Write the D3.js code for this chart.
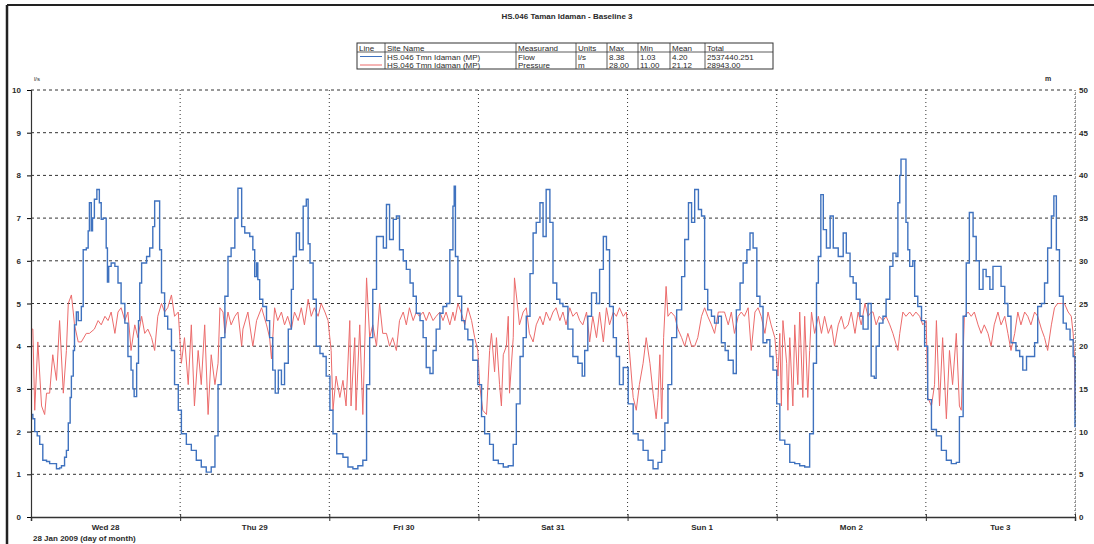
<!DOCTYPE html>
<html>
<head>
<meta charset="utf-8">
<script src="https://cdn.jsdelivr.net/npm/d3@7"></script>
<style>
  body { margin: 0; background: #fff; }
  svg { display: block; font-family: "Liberation Sans", Arial, sans-serif; }
</style>
</head>
<body>
<svg id="chart"></svg>
<script>
// readings: [hour of day, value], one array per day
const flowWed = [[0,2.4],[0.3,2.3],[0.6,2.0],[1,1.9],[1.4,1.7],[1.9,1.33],[2.5,1.3],[3,1.25],[3.5,1.25],[4.1,1.13],[4.6,1.15],[4.9,1.2],[5.4,1.4],[5.7,1.56],[6,2.2],[6.3,2.8],[6.5,3.3],[6.8,3.9],[7,4.5],[7.3,4.8],[7.6,4.6],[8.1,4.93],[8.4,6.26],[8.9,6.3],[9.2,6.7],[9.4,7.36],[9.7,6.7],[9.9,7.0],[10.2,7.44],[10.6,7.67],[11,7.36],[11.3,6.97],[11.6,7.0],[12.1,6.3],[12.3,5.5],[12.5,5.87],[12.9,5.95],[13.5,5.87],[14,5.48],[14.5,5.0],[15.1,4.54],[15.6,3.76],[16.1,3.44],[16.4,3.0],[16.6,2.82],[17,3.6],[17.3,4.6],[17.5,5.48],[17.8,5.95],[18.6,6.1],[19.1,6.3],[19.6,6.8],[19.9,7.4],[20.4,7.4],[20.7,6.26],[21,5.25],[21.5,4.7],[22,4.4],[22.6,3.9],[23.1,3.1],[23.7,2.5]];
const flowThu = [[0.2,1.95],[1,1.7],[1.8,1.56],[2.6,1.33],[3.4,1.17],[4.2,1.05],[5,1.17],[5.6,1.9],[6.1,3.1],[6.6,4.2],[7.2,5.17],[7.7,6.1],[8.2,6.3],[8.8,7.0],[9.3,7.7],[9.9,6.8],[10.4,6.65],[11.2,6.57],[11.7,6.26],[12,5.63],[12.3,5.95],[12.5,5.56],[12.8,5.1],[13.3,4.93],[13.9,4.6],[14.4,4.2],[14.9,3.44],[15.3,2.9],[15.8,3.44],[16.3,3.1],[16.8,3.6],[17.4,4.4],[17.9,5.33],[18.2,6.1],[18.7,6.65],[19.2,6.26],[19.8,7.28],[20.3,7.44],[20.6,6.4],[20.9,5.95],[21.4,5.1],[21.9,4.0],[22.5,3.83],[23,3.76],[23.5,3.3]];
const flowFri = [[0.1,2.5],[0.6,1.95],[1.2,1.48],[2.2,1.4],[3,1.17],[3.8,1.13],[4.6,1.2],[5.4,1.33],[6,3.1],[6.5,4.2],[7,5.33],[7.6,6.57],[8.1,6.57],[8.7,6.3],[9.2,7.32],[9.7,6.5],[10.3,6.97],[10.8,7.05],[11.3,6.26],[11.9,6.0],[12.4,5.8],[13,5.48],[13.5,5.17],[14,4.77],[14.6,4.6],[15.1,4.2],[15.6,3.5],[16.2,3.36],[16.7,3.9],[17.2,4.4],[17.8,4.77],[18.3,4.93],[18.9,5.0],[19.4,6.26],[19.9,7.28],[20.1,7.75],[20.3,6.1],[20.7,5.17],[21.3,4.6],[21.8,4.4],[22.3,4.15],[23.1,3.67],[23.9,3.1]];
const flowSat = [[0.5,2.35],[1,1.95],[1.8,1.7],[2.4,1.33],[3.2,1.25],[4,1.17],[4.8,1.2],[5.6,1.7],[6.1,2.65],[6.7,3.76],[7.2,4.2],[7.7,4.7],[8.3,5.7],[8.8,6.65],[9.3,6.9],[9.9,7.36],[10.4,6.57],[10.9,7.67],[11.5,6.9],[12,5.48],[12.6,5.1],[13.1,5.0],[13.6,4.93],[14.4,4.4],[15.2,3.76],[16,3.6],[16.7,3.3],[17.1,3.9],[17.6,4.7],[18.2,5.25],[19,5.0],[19.5,5.8],[20.1,6.57],[20.6,6.26],[21.1,4.93],[21.7,4.2],[22.2,3.76],[22.7,3.1],[23.3,3.5]];
const flowSun = [[0.1,2.65],[0.9,1.95],[1.7,1.8],[2.5,1.56],[3.3,1.33],[4.1,1.13],[4.9,1.28],[5.5,1.56],[6,2.2],[6.5,3.1],[7.1,4.2],[7.9,4.85],[8.7,5.63],[9.2,6.5],[9.8,7.36],[10.3,6.9],[10.8,7.67],[11.4,7.2],[11.9,7.05],[12.4,5.33],[12.9,4.85],[13.5,4.7],[14,4.54],[14.6,4.7],[15.1,4.08],[15.7,3.9],[16.2,3.67],[17,3.36],[17.5,4.85],[18.1,5.48],[18.6,5.95],[19.2,6.26],[19.7,6.65],[20.2,6.3],[20.8,5.17],[21.3,4.93],[21.8,4.08],[22.4,4.15],[22.9,3.76],[23.4,3.44]];
const flowMon = [[0,2.65],[0.5,1.8],[1.3,1.7],[2.1,1.28],[2.9,1.25],[3.7,1.2],[4.5,1.17],[5.3,1.95],[5.9,3.6],[6.4,5.48],[6.7,6.1],[7.1,7.55],[7.5,6.73],[8,6.3],[8.6,7.05],[9.1,6.3],[9.9,6.1],[10.7,6.65],[11.2,6.18],[11.8,5.63],[12.3,5.48],[12.8,5.1],[13.4,4.7],[13.9,4.4],[14.7,5.0],[15.2,3.3],[15.7,3.25],[16,4.0],[16.5,4.54],[17.1,4.7],[17.6,5.1],[18.2,5.87],[18.7,6.18],[19.2,6.1],[19.5,7.36],[19.8,8.0],[20,8.38],[20.6,8.38],[20.8,6.9],[21.1,6.26],[21.4,5.87],[21.9,6.0],[22.2,5.17],[22.7,4.93],[23.3,4.6],[23.8,4.0]];
const flowTue = [[0.3,2.75],[0.9,2.05],[1.7,1.9],[2.5,1.56],[3.3,1.33],[4.1,1.25],[4.9,1.28],[5.4,2.35],[6,4.7],[6.5,5.95],[7,7.13],[7.6,6.57],[8.1,6.0],[8.6,5.33],[9.2,5.8],[9.7,5.63],[10.3,5.33],[10.8,5.87],[11.6,5.87],[12.1,5.4],[12.7,5.0],[13.2,4.7],[13.7,4.08],[14.5,3.9],[15.1,3.76],[15.6,3.44],[16.2,3.76],[17,3.76],[17.5,4.08],[18,4.93],[18.6,5.0],[19.1,5.48],[19.6,6.3],[20.2,7.05],[20.6,7.52],[21,6.26],[21.5,5.17],[22.1,4.54],[22.6,4.4],[23.2,4.15],[23.7,3.76],[24,2.1]];

const pressWed = [[0,22],[0.3,22],[0.6,12.5],[1.1,20.5],[1.7,13],[2.2,12],[2.5,14.5],[3,14.5],[3.5,19],[4.1,16],[4.6,23],[5.2,14.5],[5.7,19.5],[6,25],[6.5,26],[6.8,24],[7,22.5],[7.6,20.5],[8.1,20.5],[8.9,21.5],[9.4,21.5],[10.2,22],[10.8,23],[11.3,22.5],[11.9,23.5],[12.4,23],[12.9,24],[13.5,21.5],[14,24],[14.5,24.5],[15.1,23],[15.6,24],[16.1,19.5],[16.7,22.5],[17.2,21],[17.8,23.5],[18.3,21.5],[18.8,22],[19.4,21],[19.9,19.5],[20.4,23.5],[21,25],[21.5,24],[22,24.5],[22.6,26],[23.1,23.5],[23.7,24]];
const pressThu = [[0.2,18],[0.7,21],[1.3,15.5],[1.8,22.5],[2.3,13],[2.9,19.5],[3.4,15.5],[3.95,22.5],[4.5,12],[5,19],[5.6,15.5],[6.1,18],[6.4,24.5],[6.9,24],[7.2,21.5],[7.7,24],[8.2,22.5],[8.8,23.5],[9.3,24],[9.9,20],[10.1,22],[10.9,24],[11.7,20],[12.3,23],[13.1,24.5],[13.9,22.5],[14.4,21],[14.7,18.5],[15.2,24.5],[15.7,23],[16.3,24],[16.8,22.5],[17.3,23.5],[17.9,22],[18.4,24],[19,23],[19.5,24.5],[20,22.5],[20.6,25.5],[21.1,23.5],[21.6,24.5],[22.2,23.5],[22.7,25],[23.3,24],[23.8,23]];
const pressFri = [[0.3,19.5],[0.6,12.5],[1.1,16.5],[1.7,14],[2.2,16],[2.7,13],[3.3,23],[3.5,13],[4.1,21],[4.3,12.5],[4.9,22.5],[5.4,12],[6,28],[6.5,21],[7,22.5],[7.6,20],[8.1,25],[8.6,21.5],[9.2,21.5],[9.7,20],[10.2,21],[10.8,19.5],[11.3,23],[11.9,24],[12.4,22.5],[12.9,24.5],[13.5,23],[14,24],[14.5,23.5],[15.1,24],[15.6,23],[16.1,24],[16.7,23],[17.2,23.5],[17.8,24],[18.3,23],[18.8,24],[19.4,22.5],[19.9,24],[20.2,23],[20.7,25],[21.2,24],[21.8,22.5],[22.3,24.5],[22.9,23],[23.4,21],[23.9,19.5]];
const pressSat = [[0.2,15.5],[0.7,12.5],[1.3,12],[1.8,19.5],[2.1,21.5],[2.6,17],[2.9,21],[3.4,15.5],[3.7,13],[4,19],[4.5,20],[4.8,23.5],[5,14.5],[5.6,21],[5.8,28],[6.4,24],[6.6,22.5],[7.2,24],[7.7,24.5],[8.2,21.5],[8.8,20.5],[9.3,22.5],[9.9,23.5],[10.4,22.5],[10.9,24],[11.5,23],[12,24],[12.5,24.5],[13.1,23],[13.6,24],[14.1,22.5],[14.7,24.5],[15.2,23.5],[15.8,24],[16.3,23],[16.8,22.5],[17.4,24],[17.9,20.5],[18.4,23.5],[19,21],[19.5,24],[20.1,20.5],[20.6,24.5],[21.1,22.5],[21.7,24],[22.2,23.5],[22.7,24.5],[23.3,23.5],[23.8,24]];
const pressSun = [[0.3,19.5],[0.9,14],[1.4,12.5],[1.9,15.5],[2.5,18],[3,21],[3.6,18],[4.1,14.5],[4.6,11.5],[4.9,14],[5.2,19],[5.5,11.5],[5.8,21],[6.2,27],[6.5,23.5],[7,24],[7.6,23.5],[8.1,22],[8.7,21],[9.2,20],[9.7,21.5],[10.3,20],[10.8,20],[11.3,21],[11.9,23.5],[12.4,24.5],[12.9,23.5],[13.5,22.5],[14,21.5],[14.6,24],[15.1,24],[15.6,24],[16.2,22.5],[16.7,24],[17.2,21.5],[17.8,23.5],[18.3,24],[18.8,23.5],[19.4,24.5],[19.9,19.5],[20.5,24],[21,24.5],[21.5,23.5],[22.1,21.5],[22.6,24],[23.1,22.5],[23.7,21]];
const pressMon = [[0.2,16.5],[0.5,21.5],[0.75,13],[1,23],[1.6,18],[1.8,12.5],[2.1,21],[2.6,13],[2.9,22.5],[3.4,15.5],[3.7,24],[4.2,14],[4.5,23.5],[5,14],[5.3,19.5],[5.6,24],[6.1,21.5],[6.7,23.5],[7.2,21.5],[7.7,23.5],[8.3,21.5],[8.8,22.5],[9.3,20],[9.9,22.5],[10.4,23.5],[10.9,22],[11.5,22.5],[12,24],[12.6,21.5],[13.1,24],[13.6,22.5],[14.2,25],[14.7,23.5],[15.2,24],[15.5,24],[16,22.5],[16.5,23.5],[17.1,23],[17.6,23.5],[18.2,22.5],[18.7,21.5],[19.5,19.5],[19.8,21.5],[20.3,24],[20.8,23.5],[21.4,24],[21.9,23.5],[22.4,24],[23,23.5],[23.5,22.5]];
const pressTue = [[0.06,23],[0.3,14],[0.9,13],[1.4,15.5],[1.7,23],[2.2,13],[2.7,21],[3.3,11.5],[3.8,19.5],[4.3,15.5],[4.9,21.5],[5.4,13],[5.7,12.5],[6.2,23.5],[6.8,24],[7.3,23.5],[7.8,24],[8.4,22.5],[8.9,21.5],[9.4,22.5],[10,21.5],[10.5,20],[11,22.5],[11.6,24],[12.1,22.5],[12.7,23.5],[13.2,21.5],[13.7,19.5],[14.3,21.5],[14.8,24],[15.3,22.5],[15.9,24],[16.4,23.5],[16.9,22.5],[17.5,24],[18,23.5],[18.6,22],[19.1,21],[19.6,19.5],[20.2,22.5],[20.7,24.5],[21.2,25],[21.8,25],[22.3,25],[22.9,24],[23.4,23.5],[23.7,21.5],[23.9,19],[24,12.5]];

const flowDays = [flowWed, flowThu, flowFri, flowSat, flowSun, flowMon, flowTue];
const pressDays = [pressWed, pressThu, pressFri, pressSat, pressSun, pressMon, pressTue];

const dayLabels = ["Wed 28", "Thu 29", "Fri 30", "Sat 31", "Sun 1", "Mon 2", "Tue 3"];
const flowTicks = [0, 1, 2, 3, 4, 5, 6, 7, 8, 9, 10];
const pressTicks = [0, 5, 10, 15, 20, 25, 30, 35, 40, 45, 50];

const tableHead = ["Line", "Site Name", "Measurand", "Units", "Max", "Min", "Mean", "Total"];
const tableFlow = ["", "HS.046 Tmn Idaman (MP)", "Flow", "l/s", "8.38", "1.03", "4.20", "2537440.251"];
const tablePress = ["", "HS.046 Tmn Idaman (MP)", "Pressure", "m", "28.00", "11.00", "21.12", "28943.00"];

const WIDTH = 1094;
const HEIGHT = 544;
const BLUE = "#3f72bf";
const RED = "#ec6b6b";
const INK = "#2a2a2a";

const START = new Date(2009, 0, 28);
const toDate = (d, h) => new Date(START.getTime() + (d * 24 + h) * 3600e3);

const svg = d3.select("#chart").attr("width", WIDTH).attr("height", HEIGHT);

const x = d3.scaleTime().domain([START, toDate(7, 0)]).range([31, 1075]);
const yFlow = d3.scaleLinear().domain([0, 10]).range([517, 90]);
const yPress = d3.scaleLinear().domain([0, 50]).range([517, 90]);

// page frame
svg.append("line").attr("x1", 7).attr("x2", WIDTH).attr("y1", 5).attr("y2", 5)
   .attr("stroke", "#222").attr("stroke-width", 2);
svg.append("line").attr("x1", 7).attr("x2", 7).attr("y1", 5).attr("y2", HEIGHT)
   .attr("stroke", "#222").attr("stroke-width", 2.5);

svg.append("text").attr("x", 567).attr("y", 19).attr("text-anchor", "middle")
   .attr("font-size", 8).attr("font-weight", "bold").attr("fill", INK)
   .text("HS.046 Taman Idaman - Baseline 3");

// legend table
const colX = [357, 385, 516, 576, 607, 638, 670, 705, 773];
const rowY = [43, 52, 60.5, 69];
const table = svg.append("g").attr("font-size", 8).attr("fill", INK);
table.append("rect").attr("x", colX[0]).attr("y", rowY[0])
     .attr("width", colX[8] - colX[0]).attr("height", rowY[3] - rowY[0])
     .attr("fill", "none").attr("stroke", "#333").attr("stroke-width", 1);
table.append("line").attr("x1", colX[0]).attr("x2", colX[8]).attr("y1", rowY[1]).attr("y2", rowY[1])
     .attr("stroke", "#333").attr("stroke-width", 0.8);
colX.slice(1, 8).forEach(cx => {
  table.append("line").attr("x1", cx).attr("x2", cx).attr("y1", rowY[0]).attr("y2", rowY[3])
       .attr("stroke", "#333").attr("stroke-width", 0.8);
});
[tableHead, tableFlow, tablePress].forEach((row, r) => {
  row.forEach((txt, c) => {
    table.append("text").attr("x", colX[c] + 2).attr("y", rowY[r] + 7.5).text(txt);
  });
});
table.append("line").attr("x1", colX[0] + 3).attr("x2", colX[1] - 3).attr("y1", 56.5).attr("y2", 56.5)
     .attr("stroke", BLUE);
table.append("line").attr("x1", colX[0] + 3).attr("x2", colX[1] - 3).attr("y1", 65).attr("y2", 65)
     .attr("stroke", RED);

// grid
const grid = svg.append("g");
grid.selectAll("line.h").data(flowTicks.slice(1)).enter().append("line")
    .attr("x1", 31).attr("x2", 1075)
    .attr("y1", d => yFlow(d)).attr("y2", d => yFlow(d))
    .attr("stroke", "#333").attr("stroke-width", 1).attr("stroke-dasharray", "3,3");
grid.selectAll("line.v").data(d3.range(1, 8)).enter().append("line")
    .attr("x1", d => x(toDate(d, 0))).attr("x2", d => x(toDate(d, 0)))
    .attr("y1", 90).attr("y2", 517)
    .attr("stroke", "#333").attr("stroke-width", 1).attr("stroke-dasharray", "1,3");

// series
const flowPts = flowDays.flatMap((day, d) => day.map(p => ({t: toDate(d, p[0]), v: p[1]})));
const pressPts = pressDays.flatMap((day, d) => day.map(p => ({t: toDate(d, p[0]), v: p[1]})));

svg.append("path").datum(pressPts)
   .attr("fill", "none").attr("stroke", RED).attr("stroke-width", 1)
   .attr("d", d3.line().x(d => x(d.t)).y(d => yPress(d.v)));

svg.append("path").datum(flowPts)
   .attr("fill", "none").attr("stroke", BLUE).attr("stroke-width", 1.4)
   .attr("d", d3.line().curve(d3.curveStepAfter).x(d => x(d.t)).y(d => yFlow(d.v)));

// axes
const axisL = svg.append("g").attr("transform", "translate(31,0)")
  .call(d3.axisLeft(yFlow).tickValues(flowTicks).tickSize(4).tickPadding(6));
axisL.select(".domain").attr("stroke", "#333").attr("stroke-width", 1.2);
axisL.selectAll("text").attr("font-size", 8).attr("font-weight", "bold").attr("fill", INK)
     .attr("font-family", "Liberation Sans, Arial, sans-serif");

const axisR = svg.append("g").attr("transform", "translate(1075,0)")
  .call(d3.axisRight(yPress).tickValues(pressTicks).tickSize(0).tickPadding(4));
axisR.select(".domain").attr("stroke", "#333").attr("stroke-dasharray", "1,3");
axisR.selectAll("text").attr("font-size", 8).attr("font-weight", "bold").attr("fill", INK)
     .attr("font-family", "Liberation Sans, Arial, sans-serif");

const axisB = svg.append("g").attr("transform", "translate(0,517)")
  .call(d3.axisBottom(x).tickValues(d3.range(0, 8).map(d => toDate(d, 0))).tickSize(4).tickFormat(""));
axisB.select(".domain").attr("stroke", "#333").attr("stroke-width", 1.5);
axisB.selectAll(".tick line").attr("y1", -3).attr("stroke", "#333");

svg.append("g").selectAll("text").data(dayLabels).enter().append("text")
   .attr("x", (d, i) => x(toDate(i, 12))).attr("y", 530)
   .attr("text-anchor", "middle").attr("font-size", 8).attr("font-weight", "bold").attr("fill", INK)
   .text(d => d);

svg.append("text").attr("x", 33).attr("y", 541).attr("font-size", 8).attr("font-weight", "bold")
   .attr("fill", INK).text("28 Jan 2009 (day of month)");
svg.append("text").attr("x", 34).attr("y", 81).attr("font-size", 6).attr("fill", INK).text("l/s");
svg.append("text").attr("x", 1045).attr("y", 81).attr("font-size", 7).attr("font-weight", "bold")
   .attr("fill", INK).text("m");
</script>
</body>
</html>
